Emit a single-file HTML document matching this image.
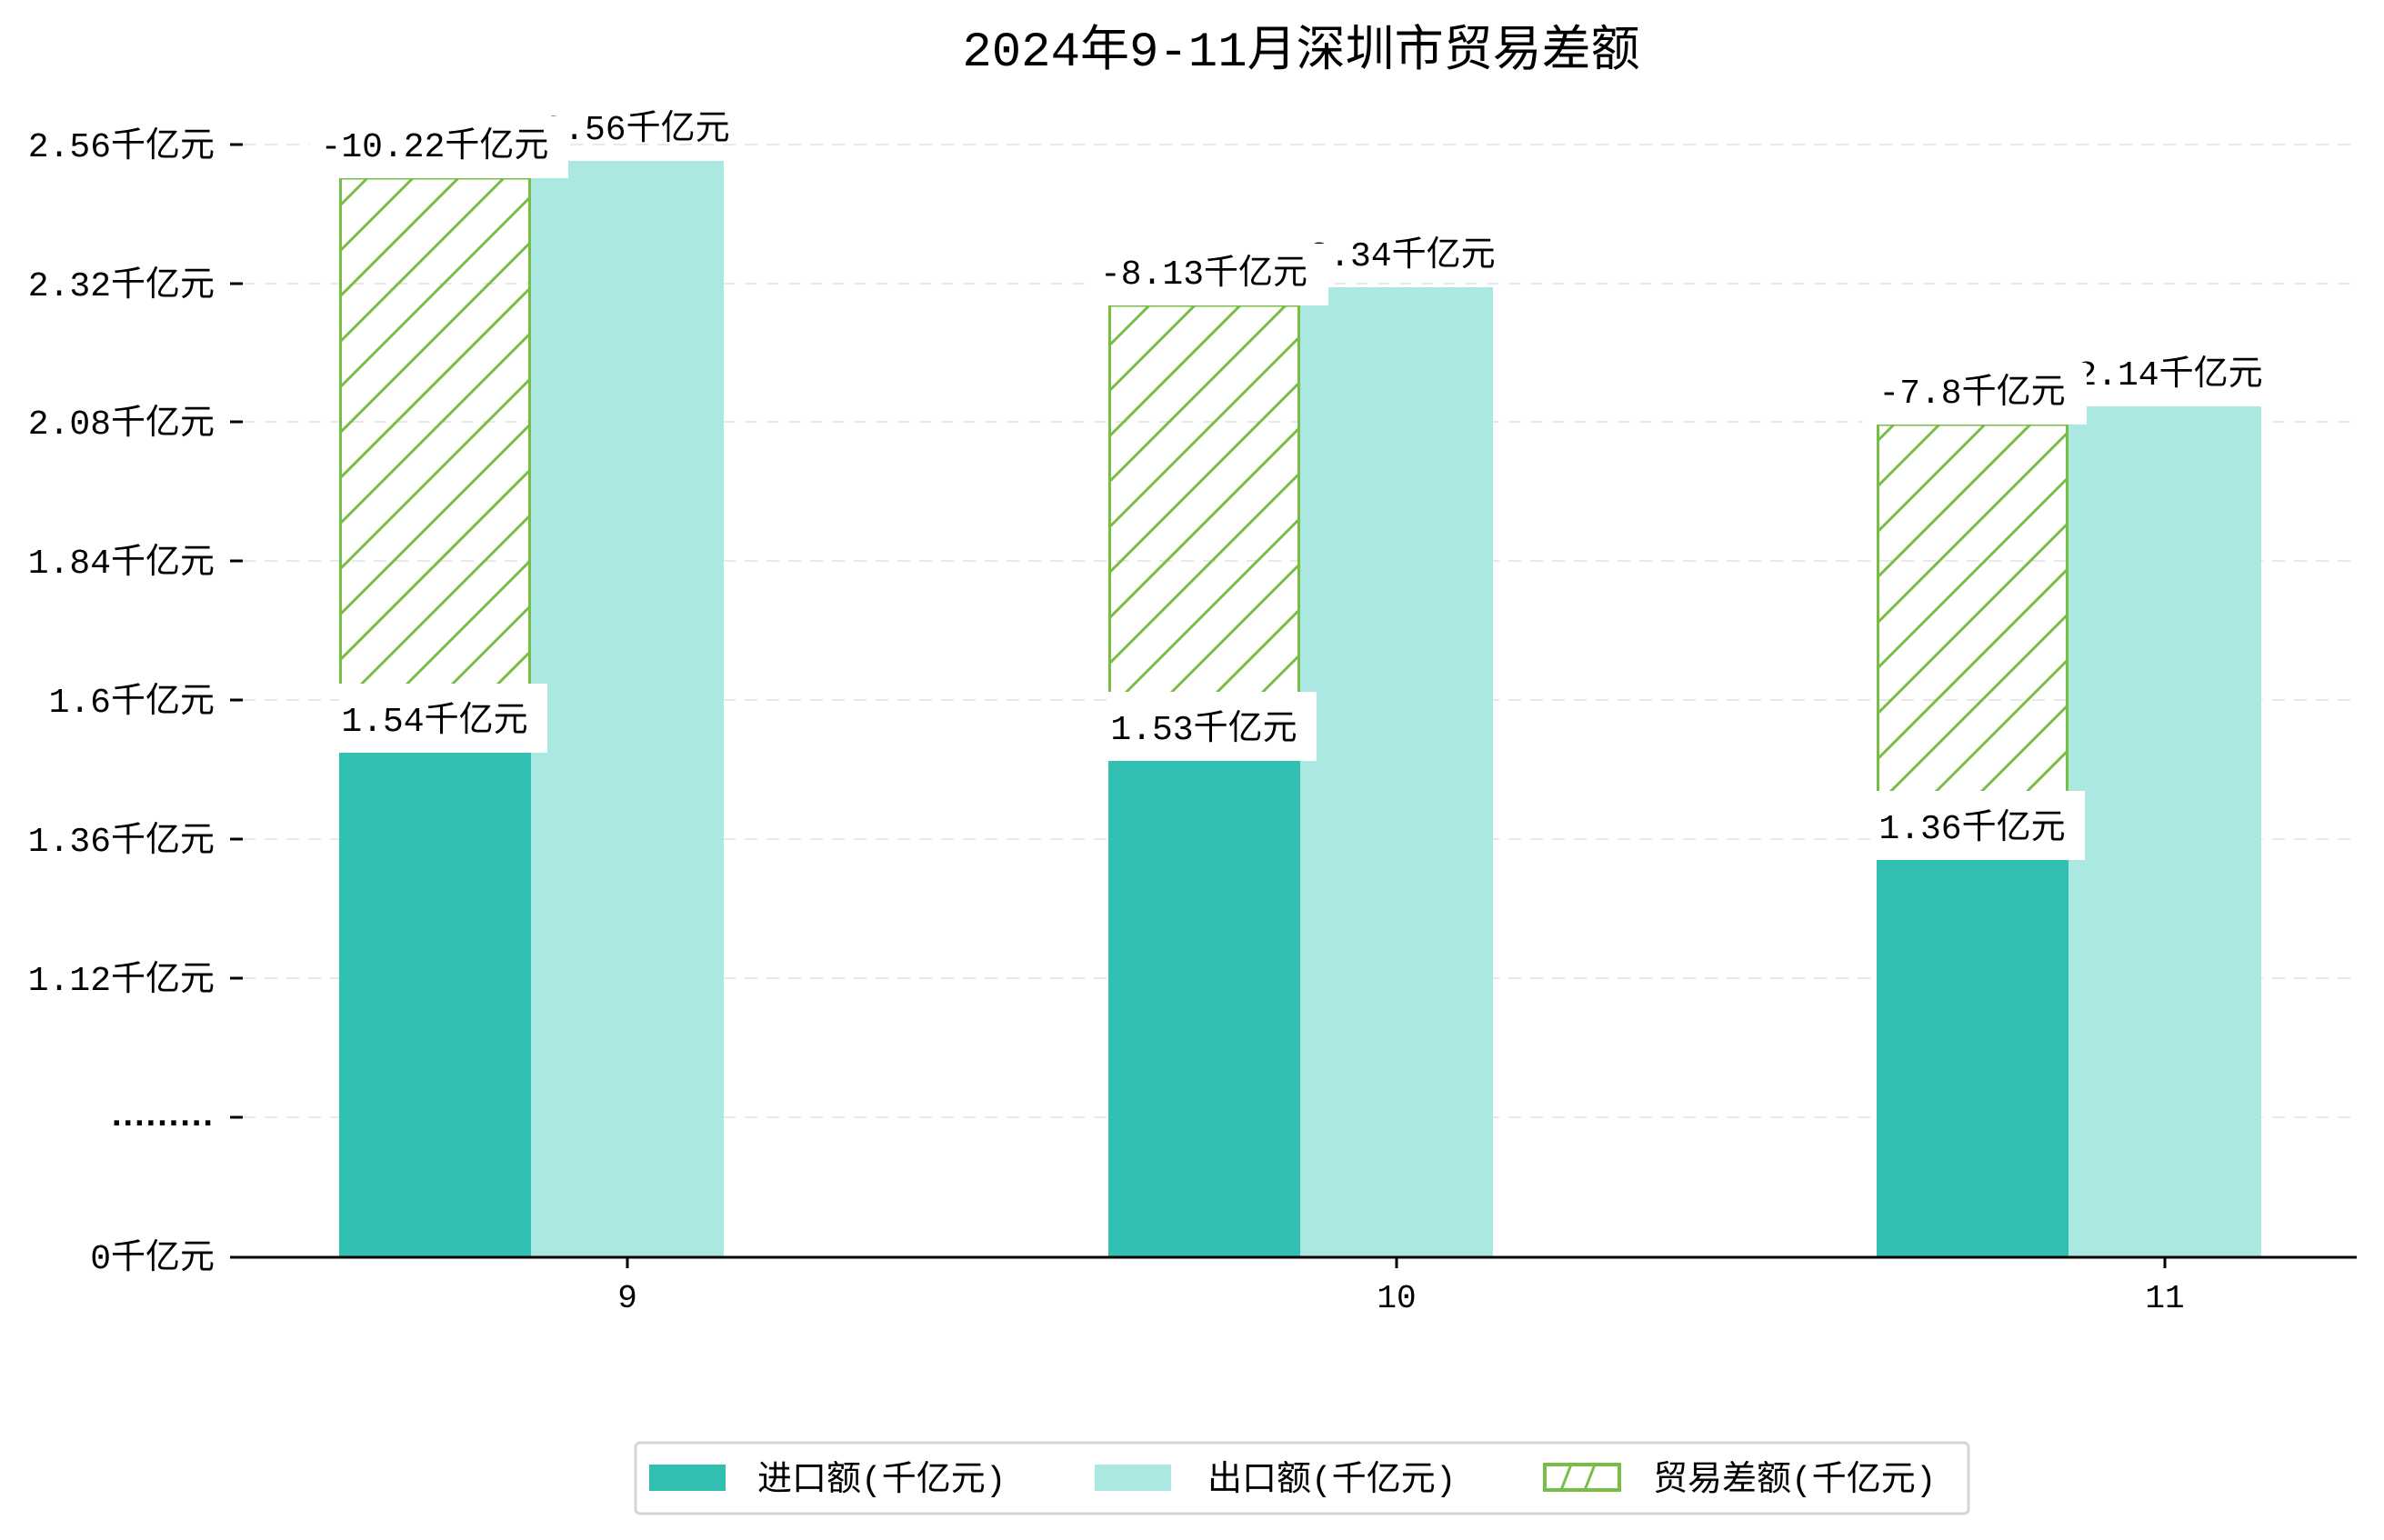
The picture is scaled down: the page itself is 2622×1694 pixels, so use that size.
<!DOCTYPE html>
<html><head><meta charset="utf-8"><style>
html,body{margin:0;padding:0;background:#fff;}
text{font-family:"Liberation Mono","Noto Sans CJK SC",monospace;fill:#000;}
</style></head><body>
<svg width="2622" height="1689" viewBox="0 0 2622 1689" xmlns="http://www.w3.org/2000/svg">
<defs>
<pattern id="h" patternUnits="userSpaceOnUse" width="50" height="50">
<path d="M-5,5 L5,-5 M0,50 L50,0 M45,55 L55,45" stroke="#78be44" stroke-width="3"/>
</pattern>
</defs>
<rect width="2622" height="1689" fill="#fff"/>
<text x="1431" y="72" font-size="54" text-anchor="middle">2024年9-11月深圳市贸易差额</text>
<g stroke="#e8e8e8" stroke-width="2" stroke-dasharray="14,10">
<line x1="267" y1="159" x2="2592" y2="159"/><line x1="267" y1="312" x2="2592" y2="312"/>
<line x1="267" y1="464" x2="2592" y2="464"/><line x1="267" y1="617" x2="2592" y2="617"/>
<line x1="267" y1="770" x2="2592" y2="770"/><line x1="267" y1="923" x2="2592" y2="923"/>
<line x1="267" y1="1076" x2="2592" y2="1076"/><line x1="267" y1="1229" x2="2592" y2="1229"/>
</g>
<g stroke="#000" stroke-width="3">
<line x1="253" y1="159" x2="267" y2="159"/><line x1="253" y1="312" x2="267" y2="312"/>
<line x1="253" y1="464" x2="267" y2="464"/><line x1="253" y1="617" x2="267" y2="617"/>
<line x1="253" y1="770" x2="267" y2="770"/><line x1="253" y1="923" x2="267" y2="923"/>
<line x1="253" y1="1076" x2="267" y2="1076"/><line x1="253" y1="1229" x2="267" y2="1229"/>
</g>
<g font-size="38" text-anchor="end">
<text x="236" y="172">2.56千亿元</text><text x="236" y="325">2.32千亿元</text>
<text x="236" y="477">2.08千亿元</text><text x="236" y="630">1.84千亿元</text>
<text x="236" y="783">1.6千亿元</text><text x="236" y="936">1.36千亿元</text>
<text x="236" y="1089">1.12千亿元</text>
<text x="236" y="1395">0千亿元</text>
</g>
<text x="236" y="1238" font-size="38" text-anchor="end" style="font-family:'Liberation Sans',sans-serif;font-weight:bold" letter-spacing="2">.........</text>
<!-- group 9 -->
<rect x="373" y="808" width="211" height="574" fill="#31c0b2"/>
<rect x="584" y="177" width="212" height="1205" fill="#abe8e2"/>
<rect x="374.5" y="196" width="208" height="612" fill="url(#h)" stroke="#78be44" stroke-width="3"/>
<text x="700" y="153" font-size="38" text-anchor="middle">2.56千亿元</text>
<rect x="340" y="128" width="285" height="68" fill="#fff"/>
<text x="478" y="172" font-size="38" text-anchor="middle">-10.22千亿元</text>
<rect x="373" y="752" width="229" height="76" fill="#fff"/>
<text x="478" y="804" font-size="38" text-anchor="middle">1.54千亿元</text>
<!-- group 10 -->
<rect x="1219" y="815" width="211" height="567" fill="#31c0b2"/>
<rect x="1430" y="316" width="212" height="1066" fill="#abe8e2"/>
<rect x="1220.5" y="336" width="208" height="479" fill="url(#h)" stroke="#78be44" stroke-width="3"/>
<text x="1542" y="292" font-size="38" text-anchor="middle">2.34千亿元</text>
<rect x="1197" y="268" width="264" height="68" fill="#fff"/>
<text x="1324" y="312" font-size="38" text-anchor="middle">-8.13千亿元</text>
<rect x="1219" y="761" width="229" height="76" fill="#fff"/>
<text x="1324" y="813" font-size="38" text-anchor="middle">1.53千亿元</text>
<!-- group 11 -->
<rect x="2064" y="923" width="211" height="459" fill="#31c0b2"/>
<rect x="2275" y="447" width="212" height="935" fill="#abe8e2"/>
<rect x="2065.5" y="467" width="208" height="456" fill="url(#h)" stroke="#78be44" stroke-width="3"/>
<text x="2386" y="423" font-size="38" text-anchor="middle">2.14千亿元</text>
<rect x="2049" y="399" width="246" height="68" fill="#fff"/>
<text x="2169" y="443" font-size="38" text-anchor="middle">-7.8千亿元</text>
<rect x="2064" y="870" width="229" height="76" fill="#fff"/>
<text x="2169" y="922" font-size="38" text-anchor="middle">1.36千亿元</text>
<!-- x axis -->
<line x1="253" y1="1383" x2="2592" y2="1383" stroke="#000" stroke-width="3"/>
<g stroke="#000" stroke-width="3">
<line x1="690" y1="1383" x2="690" y2="1395"/><line x1="1536" y1="1383" x2="1536" y2="1395"/><line x1="2381" y1="1383" x2="2381" y2="1395"/>
</g>
<g font-size="36" text-anchor="middle">
<text x="690" y="1438">9</text><text x="1536" y="1438">10</text><text x="2381" y="1438">11</text>
</g>
<!-- legend -->
<rect x="699" y="1587" width="1466" height="78" rx="5" fill="#fff" stroke="#d4d4d4" stroke-width="3"/>
<rect x="714" y="1611" width="84" height="29" fill="#31c0b2"/>
<text x="833" y="1639" font-size="38">进口额(千亿元)</text>
<rect x="1204" y="1611" width="84" height="29" fill="#abe8e2"/>
<text x="1328" y="1639" font-size="38">出口额(千亿元)</text>
<rect x="1699" y="1611" width="82" height="28" fill="#fff" stroke="#78be44" stroke-width="4"/>
<path d="M1717,1639 L1728,1611 M1743,1639 L1754,1611" stroke="#78be44" stroke-width="3"/>
<text x="1818" y="1639" font-size="38">贸易差额(千亿元)</text>
</svg>
</body></html>
